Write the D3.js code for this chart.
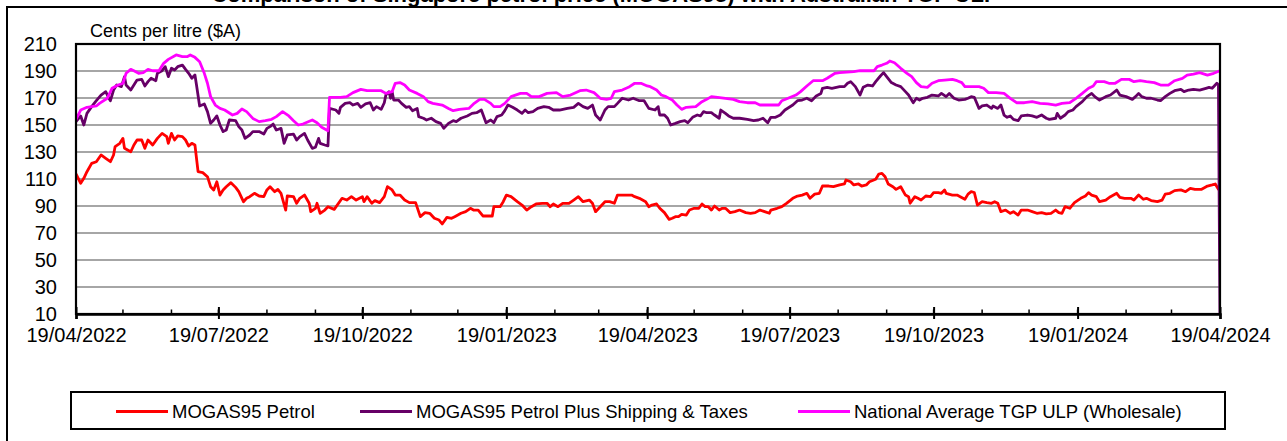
<!DOCTYPE html>
<html><head><meta charset="utf-8">
<script src="https://cdn.jsdelivr.net/npm/d3@7"></script>
<style>
body{margin:0;background:#fff;}
svg{display:block;font-family:"Liberation Sans",Arial,sans-serif;}
</style></head>
<body><svg id="chart" width="1287" height="441"></svg>
<script>
// ---------- DATA (day offset from 19/04/2022, cents per litre) ----------
const startDay = [2022, 3, 19];
const seriesNames = ["MOGAS95 Petrol", "MOGAS95 Petrol Plus Shipping & Taxes", "National Average TGP ULP (Wholesale)"];
const xTickLabels = ["19/04/2022","19/07/2022","19/10/2022","19/01/2023","19/04/2023","19/07/2023","19/10/2023","19/01/2024","19/04/2024"];
const yTicks = [10,30,50,70,90,110,130,150,170,190,210];
const yLabel = "Cents per litre ($A)";
const titleText = "Comparison of Singapore petrol price (MOGAS95) with Australian TGP ULP";

const mogas = [[0,113.7],[3,106.8],[5,110.5],[7,115.4],[10,121.6],[13,122.8],[16,127.8],[19,125.3],[22,122.8],[24,127.8],[25,134],[28,136.4],[30,140.1],[31,132.7],[35,130.2],[37,135.2],[39,138.9],[42,138.9],[44,132.7],[46,138.9],[49,135.2],[52,140.1],[55,143.8],[58,141.4],[59,136.4],[61,143.8],[63,138.9],[65,141.9],[68,141.4],[70,138.9],[72,134.4],[74,136.4],[76,135.2],[78,115.4],[81,114.7],[84,111.7],[86,104.3],[88,101.9],[90,108],[92,98.1],[94,101.9],[96,104.3],[99,107.3],[102,103.8],[104,100.6],[107,93.2],[109,95.7],[111,96.9],[114,99.4],[117,97.4],[120,96.9],[122,101.9],[124,104.3],[127,100.6],[129,102.3],[131,99.4],[134,87],[135,97.4],[139,96.9],[141,92],[143,95.7],[146,98.1],[149,92],[150,85.8],[153,88.3],[154,92],[156,84.6],[159,87],[161,89.5],[165,87.5],[170,95.7],[173,94.4],[176,96.9],[179,94.4],[183,96.9],[184,93.2],[186,96.9],[189,92],[191,94],[194,92.5],[197,96.9],[199,104.3],[202,101.9],[204,98.1],[207,98.1],[210,94.4],[213,92.5],[217,92.5],[220,82.1],[223,85.1],[226,84.6],[229,80.9],[232,79.6],[234,76.7],[237,81.6],[240,80.9],[242,82.1],[246,84.6],[249,85.8],[252,88.3],[254,87],[257,87],[260,82.6],[266,82.6],[267,89.5],[271,89.5],[273,93.2],[275,98.1],[278,96.9],[282,93.2],[285,90.7],[288,87],[291,89.5],[294,91.5],[298,92],[301,92],[303,89.5],[305,91.5],[308,89.5],[311,92],[315,92],[318,94.4],[321,96.9],[324,93.2],[328,94.4],[330,92],[332,85.8],[335,89.5],[338,93.2],[341,93.2],[344,92],[346,98.1],[350,98.1],[355,98.1],[357,96.9],[360,95.7],[364,93.2],[366,89.5],[368,90.7],[371,91.5],[373,88.3],[376,85.1],[379,80.1],[381,80.9],[383,82.1],[385,82.1],[387,83.8],[390,83.3],[392,87],[395,88.3],[398,88.3],[400,91.5],[402,89.5],[404,89.5],[406,87],[408,90],[411,87],[413,88.3],[415,88.3],[418,85.1],[421,85.8],[424,87],[428,85.1],[431,84.6],[434,85.1],[437,87],[440,85.8],[443,84.6],[444,87],[448,88.3],[451,89.5],[454,92],[458,95.7],[461,97.4],[464,98.1],[467,99.4],[469,95.7],[472,98.8],[475,99.4],[477,104.8],[481,104.8],[484,104.3],[488,105.6],[491,106.3],[492,109.3],[495,108],[497,105.6],[500,106.3],[502,104.8],[505,105.6],[507,108],[511,109.8],[513,113.7],[515,114.2],[517,111.7],[519,106.3],[522,104.3],[524,102.3],[527,104.3],[530,98.1],[532,96.9],[533,92],[536,96.9],[538,95.7],[540,94.4],[543,97.4],[546,96.9],[548,99.9],[551,99.9],[553,99.4],[555,101.9],[556,99.4],[560,98.1],[563,98.1],[565,96.9],[568,95],[570,98.8],[572,100.6],[574,100],[576,90.7],[579,93.2],[582,92.5],[585,92],[587,93.2],[589,92],[591,85.8],[594,87],[597,84.6],[599,85.8],[602,83.3],[604,87],[608,87],[611,85.8],[614,84.6],[617,85.1],[620,84.1],[623,84.6],[626,87],[628,85.1],[630,84.6],[632,89.5],[635,88.3],[638,92.5],[642,95.7],[645,97.4],[647,99.9],[649,98.1],[652,96.9],[654,93.2],[658,94.4],[661,96.9],[665,99.4],[667,96.4],[670,95.7],[674,95.7],[676,94.4],[679,98.1],[682,95],[684,95.7],[687,94],[691,93.2],[694,94.4],[696,98.8],[699,99.4],[702,101.4],[706,101.9],[709,100.6],[712,103.1],[715,102.3],[719,102.3],[723,104.8],[726,105.6],[728,106.3],[730,102.3],[731,103.5]];

const mogasPlus = [[0,152.5],[3,156.7],[5,150],[7,158.6],[10,163.6],[13,168],[16,172.2],[19,174.7],[21,169.8],[22,168],[24,175.9],[26,179.6],[29,178.4],[31,185.8],[32,179.6],[35,175.9],[37,179.6],[39,183.3],[42,183.8],[44,178.9],[46,182.1],[48,184.6],[51,182.8],[52,188.3],[55,190.2],[57,193.2],[59,185.8],[61,192],[63,190.7],[65,193.2],[68,194.4],[70,191.2],[72,188.3],[74,184.6],[76,187],[77,179.6],[79,164.1],[82,165.6],[84,159.9],[86,151.2],[88,153.7],[90,156.7],[92,150],[94,145.1],[96,146.3],[98,153.7],[102,153.2],[104,148.8],[106,146.3],[108,140.1],[111,142.6],[113,145.1],[117,145.1],[120,143.3],[122,147.5],[124,148.8],[126,150.7],[128,146.3],[131,147.5],[133,136.4],[135,142.6],[139,143.3],[141,138.9],[143,141.4],[146,143.8],[148,138.9],[151,132.7],[153,133.5],[155,140.1],[156,136.4],[159,135.2],[161,134.5],[162,162.3],[166,161.1],[168,158.6],[169,163.1],[172,166],[175,166.5],[177,164.8],[180,166],[182,163.1],[185,165.6],[188,166.5],[190,161.1],[192,163.6],[195,161.6],[197,166.5],[198,172.2],[200,174.7],[201,169.8],[202,174.7],[203,168.5],[206,168.5],[208,166],[211,163.1],[213,163.6],[215,160.6],[218,162.3],[219,156.2],[222,155],[224,153.7],[227,155],[230,152.5],[233,151.2],[235,147.5],[238,151.2],[241,153.2],[243,152.5],[246,155],[250,156.7],[253,158.6],[256,159.1],[259,161.1],[262,151.7],[265,153.7],[267,151.7],[269,156.2],[272,157.4],[274,160.6],[276,164.8],[279,163.1],[282,161.1],[285,158.6],[287,161.1],[289,159.1],[292,159.9],[295,162.3],[299,163.6],[302,163.1],[305,161.1],[309,161.1],[314,162.3],[318,163.1],[321,166],[324,163.6],[327,162.3],[330,164.8],[332,157.4],[335,153.7],[338,161.1],[340,163.6],[344,163.6],[346,166],[349,169.8],[353,168.5],[356,169.8],[360,168],[363,168],[366,162.3],[370,161.1],[372,163.6],[373,157.4],[376,157.4],[378,155],[380,150],[383,151.2],[386,152.5],[389,153.2],[391,151.7],[394,155.7],[397,157.4],[399,156.7],[401,159.9],[403,159.1],[406,159.1],[408,157.4],[411,155],[412,161.1],[415,158.6],[417,156.7],[420,155],[424,155],[429,154.2],[433,153.2],[436,153.7],[439,155],[442,151.7],[444,155.7],[447,155.7],[450,157.4],[453,161.1],[458,164.8],[461,168],[464,168.5],[467,169.8],[470,168],[473,171.5],[476,173.4],[477,177.2],[480,177.9],[483,177.2],[488,178.4],[491,178.4],[493,180.9],[495,182.1],[498,178.4],[501,172.2],[503,177.9],[506,179.6],[509,178.9],[511,182.1],[514,186.3],[516,188.8],[518,185.8],[521,181.4],[524,179.6],[527,178.4],[530,174.7],[532,172.2],[535,166.5],[537,169.8],[539,168.5],[541,169.8],[544,170.5],[547,172.2],[551,171.5],[553,173.4],[556,171],[558,173.4],[561,169.8],[564,168.5],[568,169],[570,169.8],[572,171],[574,170.5],[577,162.3],[579,164.1],[582,164.8],[585,162.3],[586,164.1],[589,162.3],[591,164.8],[593,157.4],[595,155.7],[597,156.7],[599,154.2],[602,153.2],[604,156.7],[608,157.4],[611,156.7],[614,155.7],[617,157.4],[620,155],[622,154.2],[626,155],[627,158.6],[629,155],[632,157.4],[634,159.9],[637,161.1],[639,163.6],[643,167.3],[646,171],[649,173.4],[651,171],[654,168.5],[658,171],[661,172.2],[665,175.9],[667,172.2],[671,171],[675,169],[677,171],[679,173.4],[681,171],[684,169.8],[687,169.8],[691,168.5],[693,168],[696,171],[699,173.4],[702,175.4],[706,176.4],[708,174.7],[711,175.9],[714,176.4],[718,175.9],[722,177.2],[724,177.9],[726,177.2],[729,180.9],[730,179.6],[731,0]];

const tgp = [[0,154.2],[3,161.1],[7,163.1],[13,164.1],[15,166],[20,169.8],[23,177.2],[27,179.6],[30,180.9],[32,188.3],[35,191.2],[37,190.2],[40,188.3],[43,188.8],[46,191.2],[49,190.2],[53,190.2],[56,195.7],[59,198.6],[64,201.9],[68,200.6],[71,200.6],[73,201.9],[76,200.1],[79,196.9],[82,188.3],[84,180.9],[86,171],[89,164.8],[92,162.3],[95,161.1],[100,157.4],[103,158.6],[106,161.9],[109,159.9],[113,154.9],[117,152.5],[121,153.2],[125,154.2],[128,156.2],[132,159.9],[136,156.7],[139,153.2],[142,150],[145,150.7],[151,153.7],[154,151.7],[157,148.3],[161,145.8],[162,170.5],[169,170.5],[173,171],[177,174],[182,176.4],[186,175.4],[195,175.4],[198,173.4],[202,174.7],[204,180.9],[207,181.4],[210,179.6],[213,175.9],[218,173.4],[222,171],[225,167.3],[228,166],[234,164.8],[238,162.3],[241,160.6],[245,161.6],[251,162.3],[254,165.6],[258,169],[261,169],[265,166],[267,163.6],[271,163.6],[274,166],[278,171],[284,173.4],[288,173.4],[291,171],[296,171],[301,173.4],[307,174],[311,171],[316,172.2],[322,175.4],[326,175.9],[331,174],[335,169.8],[339,169],[342,169.8],[344,174.7],[349,175.9],[353,177.9],[357,180.9],[361,180.9],[365,178.9],[367,178.4],[371,175.9],[374,172.2],[377,171],[381,168.5],[384,164.8],[387,161.6],[390,163.1],[396,163.6],[400,167.3],[403,169],[406,171],[410,170.5],[415,169.8],[420,169],[424,167.3],[429,166.5],[434,166.5],[437,164.8],[449,164.8],[451,168],[455,169.8],[460,172.2],[463,174.7],[467,178.9],[471,182.8],[477,182.8],[480,184.6],[485,188.3],[488,188.8],[497,189.5],[501,190.2],[510,190.2],[512,193.2],[515,194.4],[518,195.7],[520,197.4],[523,196.1],[527,192],[531,188.3],[534,185.8],[537,181.4],[540,178.4],[544,177.9],[547,180.9],[551,182.8],[555,183.3],[560,183.8],[563,182.8],[566,181.4],[568,178.4],[577,178.4],[580,177.2],[583,174],[588,174],[593,173.4],[597,169.8],[601,166.5],[606,166.5],[611,167.3],[616,166],[621,165.6],[626,164.8],[630,166],[635,166.5],[639,169.8],[643,173.4],[647,177.2],[650,178.9],[652,182.1],[657,182.1],[660,180.9],[664,180.9],[668,183.8],[673,183.8],[676,182.1],[680,182.8],[684,182.1],[689,181.4],[693,179.6],[698,179.6],[702,182.8],[707,184.6],[710,187],[714,187.7],[718,188.8],[723,187],[727,188.3],[731,190.2]];

const seriesColors = ["#ff0000", "#660066", "#ff00ff"];

// ---------- CHART ----------
const svg = d3.select("#chart");
const start = new Date(startDay[0], startDay[1], startDay[2]);
const dayToDate = d => d3.timeDay.offset(start, d);
const parseTick = d3.timeParse("%d/%m/%Y");
const tickDates = xTickLabels.map(parseTick);

const plot = {left: 76, right: 1220, top: 44, bottom: 314};
const x = d3.scaleTime().domain([tickDates[0], tickDates[tickDates.length-1]]).range([plot.left, plot.right]);
const y = d3.scaleLinear().domain([10, 210]).range([plot.bottom, plot.top]);

// outer chart border
svg.append("path").attr("d", "M7,441 V7 H1290").attr("fill","none").attr("stroke","#000").attr("stroke-width",2);

// title (mostly above the visible area, as in the reference)
svg.append("text").attr("x", 605).attr("y", 1.5).attr("text-anchor","middle")
  .attr("font-size", 22).attr("font-weight","bold").text(titleText);

// gridlines
svg.append("g").selectAll("line").data(yTicks.slice(1, -1)).join("line")
  .attr("x1", plot.left).attr("x2", plot.right)
  .attr("y1", d => y(d)).attr("y2", d => y(d))
  .attr("stroke", "#a6a6a6").attr("stroke-width", 2);

// y labels
svg.append("g").selectAll("text").data(yTicks).join("text")
  .attr("x", 57).attr("y", d => y(d)).attr("dy", "0.35em")
  .attr("text-anchor","end").attr("font-size", 20).text(d => d);

svg.append("text").attr("x", 90).attr("y", 37).attr("font-size", 18).text(yLabel);

// lines
svg.append("clipPath").attr("id","clip").append("rect")
  .attr("x", plot.left).attr("y", plot.top - 2).attr("width", plot.right - plot.left + 1).attr("height", plot.bottom - plot.top + 2);
const line = d3.line().x(d => x(dayToDate(d[0]))).y(d => y(d[1]));
const allSeries = [mogas, mogasPlus, tgp];
svg.append("g").attr("clip-path","url(#clip)").selectAll("path").data(allSeries).join("path")
  .attr("d", line).attr("fill","none")
  .attr("stroke", (d,i) => seriesColors[i]).attr("stroke-width", 2.8)
  .attr("stroke-linejoin","round");

// plot frame
svg.append("rect").attr("x", plot.left).attr("y", plot.top)
  .attr("width", plot.right - plot.left).attr("height", plot.bottom - plot.top)
  .attr("fill","none").attr("stroke","#000").attr("stroke-width",2.2);

// minor (monthly) ticks
const minorDates = d3.range(0, 25).map(i => new Date(startDay[0], startDay[1] + i, startDay[2]));
svg.append("g").selectAll("line").data(minorDates).join("line")
  .attr("x1", d => x(d)).attr("x2", d => x(d))
  .attr("y1", plot.bottom - 4.5).attr("y2", plot.bottom)
  .attr("stroke","#000").attr("stroke-width",1.5);

// x axis major ticks and labels
const xAxis = d3.axisBottom(x).tickValues(tickDates).tickSize(5).tickFormat((d,i) => xTickLabels[i]);
const gx = svg.append("g").attr("transform", `translate(0,${plot.bottom})`).call(xAxis);
gx.select(".domain").attr("stroke","#000").attr("stroke-width",2.5);
gx.selectAll(".tick line").attr("stroke","#000").attr("stroke-width",2).attr("y1",-7).attr("y2",5);
gx.selectAll(".tick text").attr("font-size",20).attr("font-family","Liberation Sans, Arial, sans-serif")
  .attr("fill","#000").attr("y", 14).attr("dy","0.71em");

// legend
const lg = svg.append("g");
lg.append("rect").attr("x", 71).attr("y", 392).attr("width", 1154).attr("height", 37)
  .attr("fill","#fff").attr("stroke","#000").attr("stroke-width",2);
const legendX = [116, 360, 798];
const items = lg.selectAll("g.item").data(seriesNames).join("g").attr("class","item")
  .attr("transform", (d,i) => `translate(${legendX[i]},411.5)`);
items.append("line").attr("x1",0).attr("x2",52).attr("y1",0).attr("y2",0)
  .attr("stroke",(d,i)=>seriesColors[i]).attr("stroke-width",3);
items.append("text").attr("x",56).attr("y",6.5).attr("font-size",18.5).text(d => d);
</script></body></html>
